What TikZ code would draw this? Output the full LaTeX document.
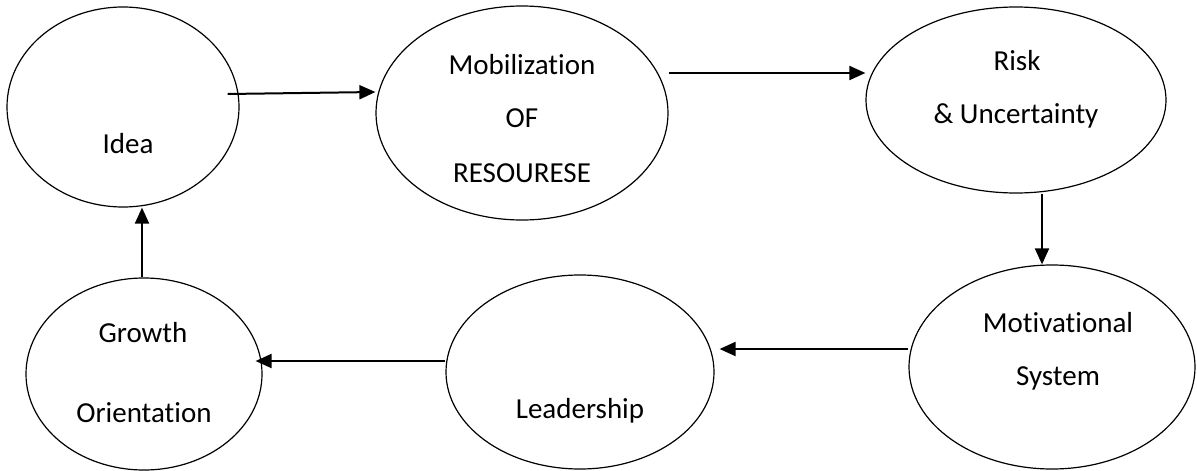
\documentclass[tikz,border=0pt]{standalone}
\usepackage{fontspec}
\setmainfont{Carlito}[Ligatures=NoCommon]
\usetikzlibrary{arrows.meta,shapes}

\begin{document}
\begin{tikzpicture}[x=1pt,y=-1pt,
    stage/.style={draw,ellipse,line width=1.2pt,inner sep=0pt},
    caption/.style={anchor=base,inner sep=0pt,font=\fontsize{29}{35}\selectfont},
    flow/.style={line width=2pt,-{Triangle[length=16pt,width=14pt]}}]
    \useasboundingbox (0,0) rectangle (1197,471);
    \node[stage,minimum width=232pt,minimum height=200pt] (idea) at (123,107) {};
    \node[stage,minimum width=292pt,minimum height=214pt] (mob) at (522,113) {};
    \node[stage,minimum width=300pt,minimum height=186pt] (risk) at (1016,100) {};
    \node[stage,minimum width=286pt,minimum height=204pt] (motiv) at (1052,367) {};
    \node[stage,minimum width=268pt,minimum height=194pt] (lead) at (580,372) {};
    \node[stage,minimum width=236pt,minimum height=192pt] (growth) at (144,374) {};

    \node[caption] (idea-t) at (128,153) {Idea};
    \node[caption] (mob-t1) at (522,74) {Mobilization};
    \node[caption] (mob-t2) at (522,127) {OF};
    \node[caption] (mob-t3) at (522,182) {RESOURESE};
    \node[caption] (risk-t1) at (1017,70) {Risk};
    \node[caption] (risk-t2) at (1016,123) {\& Uncertainty};
    \node[caption] (motiv-t1) at (1058,332) {Motivational};
    \node[caption] (motiv-t2) at (1058,385) {System};
    \node[caption] (lead-t) at (580,418) {Leadership};
    \node[caption] (growth-t1) at (143,342) {Growth};
    \node[caption] (growth-t2) at (144,422) {Orientation};

    \draw[flow] ([xshift=-12pt,yshift=13pt]idea.east) -- ([yshift=21pt]mob.west);
    \draw[flow] ([yshift=40pt]mob.east) -- ([yshift=27pt]risk.west);
    \draw[flow] ([xshift=26pt]risk.south) -- ([xshift=-10pt]motiv.north);
    \draw[flow] ([yshift=18pt]motiv.west) -- ([xshift=5pt,yshift=23pt]lead.east);
    \draw[flow] ([yshift=11pt]lead.west) -- ([xshift=-7pt,yshift=13pt]growth.east);
    \draw[flow] ([xshift=-2pt]growth.north) -- ([xshift=19pt]idea.south);
\end{tikzpicture}
\end{document}
